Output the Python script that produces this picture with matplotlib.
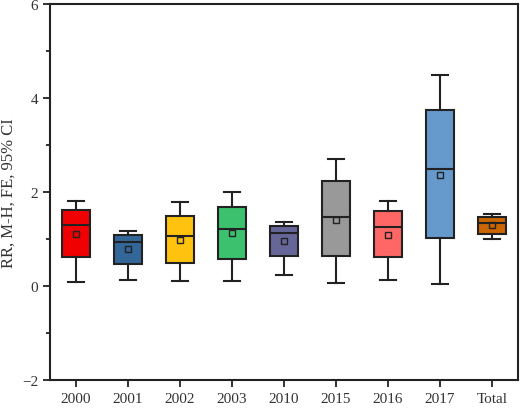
import matplotlib
matplotlib.use("Agg")
import matplotlib.pyplot as plt
from matplotlib.ticker import MultipleLocator

labels = ["2000","2001","2002","2003","2010","2015","2016","2017","Total"]
whislo = [0.09,0.13,0.11,0.11,0.23,0.07,0.12,0.05,0.99]
q1     = [0.62,0.47,0.48,0.57,0.63,0.63,0.61,1.02,1.11]
med    = [1.30,0.93,1.06,1.22,1.12,1.46,1.25,2.50,1.33]
q3     = [1.62,1.09,1.50,1.69,1.27,2.24,1.60,3.75,1.46]
whishi = [1.81,1.17,1.79,1.99,1.37,2.71,1.81,4.49,1.54]
means  = [1.11,0.78,0.98,1.12,0.95,1.41,1.09,2.37,1.29]
colors = ["#f00000","#336699","#ffc20e","#3cc26e","#666699","#999999","#ff6666","#6699cc","#cc6600"]

plt.rcParams['font.family'] = ['Liberation Serif','DejaVu Serif']
fig = plt.figure(figsize=(5.2,4.1), dpi=100)
ax = fig.add_axes([50/520, 29/410, 468/520, 376/410])
stats = [dict(label=l, whislo=a, q1=b, med=c, q3=d, whishi=e, mean=m, fliers=[])
         for l,a,b,c,d,e,m in zip(labels,whislo,q1,med,q3,whishi,means)]
bp = ax.bxp(stats, positions=range(1,10), widths=0.52, patch_artist=True, showmeans=True,
            boxprops=dict(linewidth=1.5, edgecolor='#222222'),
            medianprops=dict(color='#222222', linewidth=1.5),
            whiskerprops=dict(color='#222222', linewidth=1.5),
            capprops=dict(color='#222222', linewidth=1.5),
            meanprops=dict(marker='s', markersize=4, markerfacecolor='none', markeredgecolor='#222222', markeredgewidth=1))
for p,c in zip(bp['boxes'],colors):
    p.set_facecolor(c)
for cap in bp['caps']:
    x = cap.get_xdata(); mid = (x[0]+x[1])/2
    cap.set_xdata([mid-0.16, mid+0.16])
ax.set_xlim(0.5,9.5)
ax.set_ylim(-2,6)
ax.yaxis.set_major_locator(MultipleLocator(2))
ax.yaxis.set_minor_locator(MultipleLocator(1))
ax.set_xticks(range(1,10)); ax.set_xticklabels(labels)
ax.tick_params(axis='both', which='both', direction='out', labelsize=11, width=1.3, colors='#222222', labelcolor='#333333')
ax.tick_params(which='major', length=5); ax.tick_params(which='minor', length=3)
for s in ax.spines.values():
    s.set_linewidth(1.5); s.set_color('#222222')
ax.set_ylabel("RR, M-H, FE, 95% CI", fontsize=12, color='#333333', labelpad=4)
fig.savefig("out.png", dpi=100)
